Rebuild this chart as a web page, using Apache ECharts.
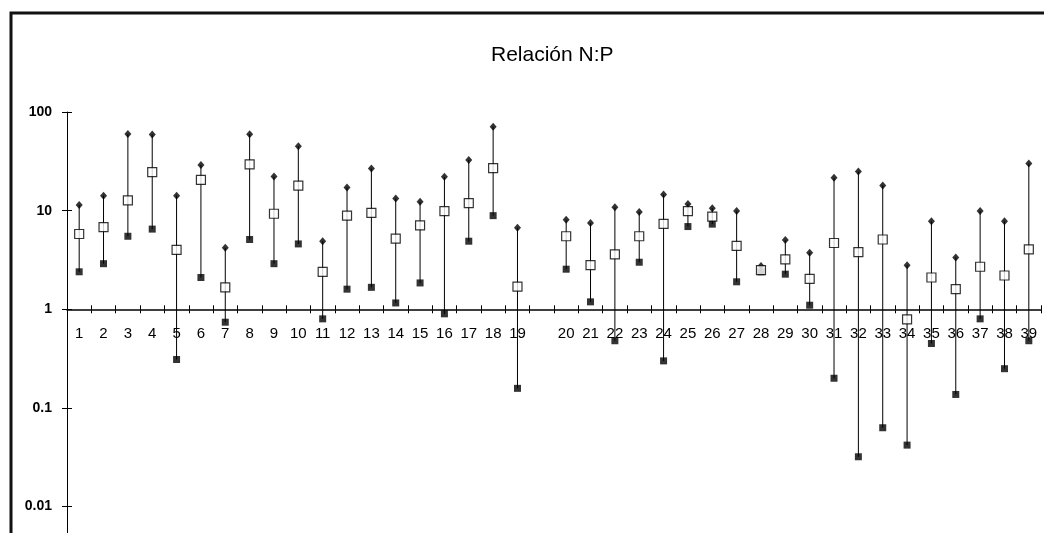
<!DOCTYPE html>
<html>
<head>
<meta charset="utf-8">
<script src="https://cdn.jsdelivr.net/npm/echarts@6/dist/echarts.min.js"></script>
<style>html,body{margin:0;padding:0;background:#fff}#c{width:1044px;height:533px}</style>
</head>
<body>
<div id="c"></div>
<script>
// categories (an empty slot separates 19 and 20, as in the original)
const categories = ['1','2','3','4','5','6','7','8','9','10','11','12','13','14','15','16','17','18','19','',
  '20','21','22','23','24','25','26','27','28','29','30','31','32','33','34','35','36','37','38','39'];
const highVals = [11.4,14.2,60,59,14.2,29,4.2,59.5,22.2,45,4.9,17.2,26.8,13.3,12.3,22,32.6,71,6.7,null,
  8.1,7.5,10.8,9.7,14.6,11.7,10.6,9.9,2.75,5.05,3.75,21.5,25,18,2.8,7.8,3.35,9.9,7.8,30];
const midVals = [5.8,6.8,12.7,24.6,4.0,20.5,1.67,29.4,9.3,17.9,2.4,8.9,9.5,5.2,7.1,9.9,11.9,27,1.7,null,
  5.5,2.8,3.6,5.5,7.35,9.9,8.7,4.4,2.5,3.2,2.03,4.7,3.8,5.1,0.79,2.1,1.6,2.7,2.2,4.05];
const lowVals = [2.4,2.9,5.5,6.5,0.31,2.1,0.74,5.1,2.9,4.6,0.8,1.6,1.67,1.16,1.85,0.9,4.9,8.9,0.158,null,
  2.55,1.19,0.48,3.0,0.30,6.9,7.3,1.9,2.4,2.27,1.1,0.20,0.032,0.063,0.042,0.45,0.137,0.8,0.25,0.48];
const yTickLabels = ['0.01','0.1','1','10','100'];
const titleText = 'Relación N:P';

const rangeData = categories.map((c, i) => highVals[i] == null ? [i, null, null] : [i, lowVals[i], highVals[i]]);

const chart = echarts.init(document.getElementById('c'), null, {renderer: 'canvas'});
const FONT = '"Liberation Sans", Arial, sans-serif';
const Y_MIN = 0.0054, Y_MAX = 100;

function yLabel(v) {
  const l = Math.log10(v);
  if (Math.abs(l - Math.round(l)) > 1e-6) return '';
  const idx = Math.round(l) + 2;
  return yTickLabels[idx] || '';
}

function buildOption(xOffset) {
  const yBase = {
    type: 'log', logBase: 10, min: Y_MIN, max: Y_MAX, position: 'left',
    splitLine: {show: false}
  };
  const xBase = {
    type: 'category', data: categories, position: 'bottom', offset: xOffset, boundaryGap: true
  };
  return {
    backgroundColor: '#fff',
    animation: false,
    title: {
      text: titleText, left: 486, top: 40,
      textStyle: {fontFamily: FONT, fontSize: 21, fontWeight: 'normal', color: '#000'}
    },
    graphic: [{
      type: 'polyline', silent: true,
      shape: {points: [[11, 540], [11, 13], [1050, 13]]},
      style: {stroke: '#111', lineWidth: 3, fill: null}
    }],
    grid: {left: 67, right: 3, top: 112, bottom: 0, containLabel: false, outerBoundsMode: 'none'},
    xAxis: [
      Object.assign({}, xBase, {
        axisLine: {show: true, lineStyle: {color: '#000', width: 1.5}},
        axisTick: {show: true, length: 4, inside: false, lineStyle: {color: '#000'}},
        axisLabel: {show: true, margin: 17, color: '#000', fontFamily: FONT, fontSize: 15, interval: 0}
      }),
      Object.assign({}, xBase, {
        axisLine: {show: false},
        axisTick: {show: true, length: 4, inside: true, lineStyle: {color: '#000'}},
        axisLabel: {show: false}
      })
    ],
    yAxis: [
      Object.assign({}, yBase, {
        axisLine: {show: true, lineStyle: {color: '#000', width: 1}},
        axisTick: {show: true, length: 5, lineStyle: {color: '#000'}},
        axisLabel: {show: true, margin: 15, color: '#000', fontFamily: FONT, fontSize: 14, fontWeight: 'bold', formatter: yLabel, showMinLabel: false}
      }),
      Object.assign({}, yBase, {
        axisLine: {show: false},
        axisTick: {show: true, length: 5, inside: true, lineStyle: {color: '#000'}},
        axisLabel: {show: false}
      })
    ],
    series: [
      {
        type: 'custom', xAxisIndex: 0, yAxisIndex: 0, z: 1,
        data: rangeData,
        encode: {x: 0, y: [1, 2]},
        renderItem: function (params, api) {
          const lo = api.value(1), hi = api.value(2);
          if (lo == null || hi == null || isNaN(lo) || isNaN(hi)) return null;
          const p1 = api.coord([api.value(0), lo]);
          const p2 = api.coord([api.value(0), hi]);
          return {type: 'line', shape: {x1: p1[0], y1: p1[1], x2: p2[0], y2: p2[1]},
            style: {stroke: '#000', lineWidth: 1}};
        }
      },
      {
        name: 'high', type: 'scatter', xAxisIndex: 0, yAxisIndex: 0, z: 3,
        symbol: 'diamond', symbolSize: [7, 8],
        itemStyle: {color: '#000'},
        data: highVals
      },
      {
        name: 'low', type: 'scatter', xAxisIndex: 0, yAxisIndex: 0, z: 3,
        symbol: 'rect', symbolSize: 7,
        itemStyle: {color: '#000'},
        data: lowVals
      },
      {
        name: 'mid', type: 'scatter', xAxisIndex: 0, yAxisIndex: 0, z: 4,
        symbol: 'rect', symbolSize: 9,
        itemStyle: {color: '#fff', borderColor: '#000', borderWidth: 1.2},
        data: midVals
      }
    ]
  };
}

chart.setOption(buildOption(0));
// move the category axis so it crosses the log axis at y = 1
const yOne = chart.convertToPixel({yAxisIndex: 0}, 1);
const yBottom = chart.convertToPixel({yAxisIndex: 0}, Y_MIN);
chart.setOption(buildOption(-(yBottom - yOne)));
</script>
</body>
</html>
